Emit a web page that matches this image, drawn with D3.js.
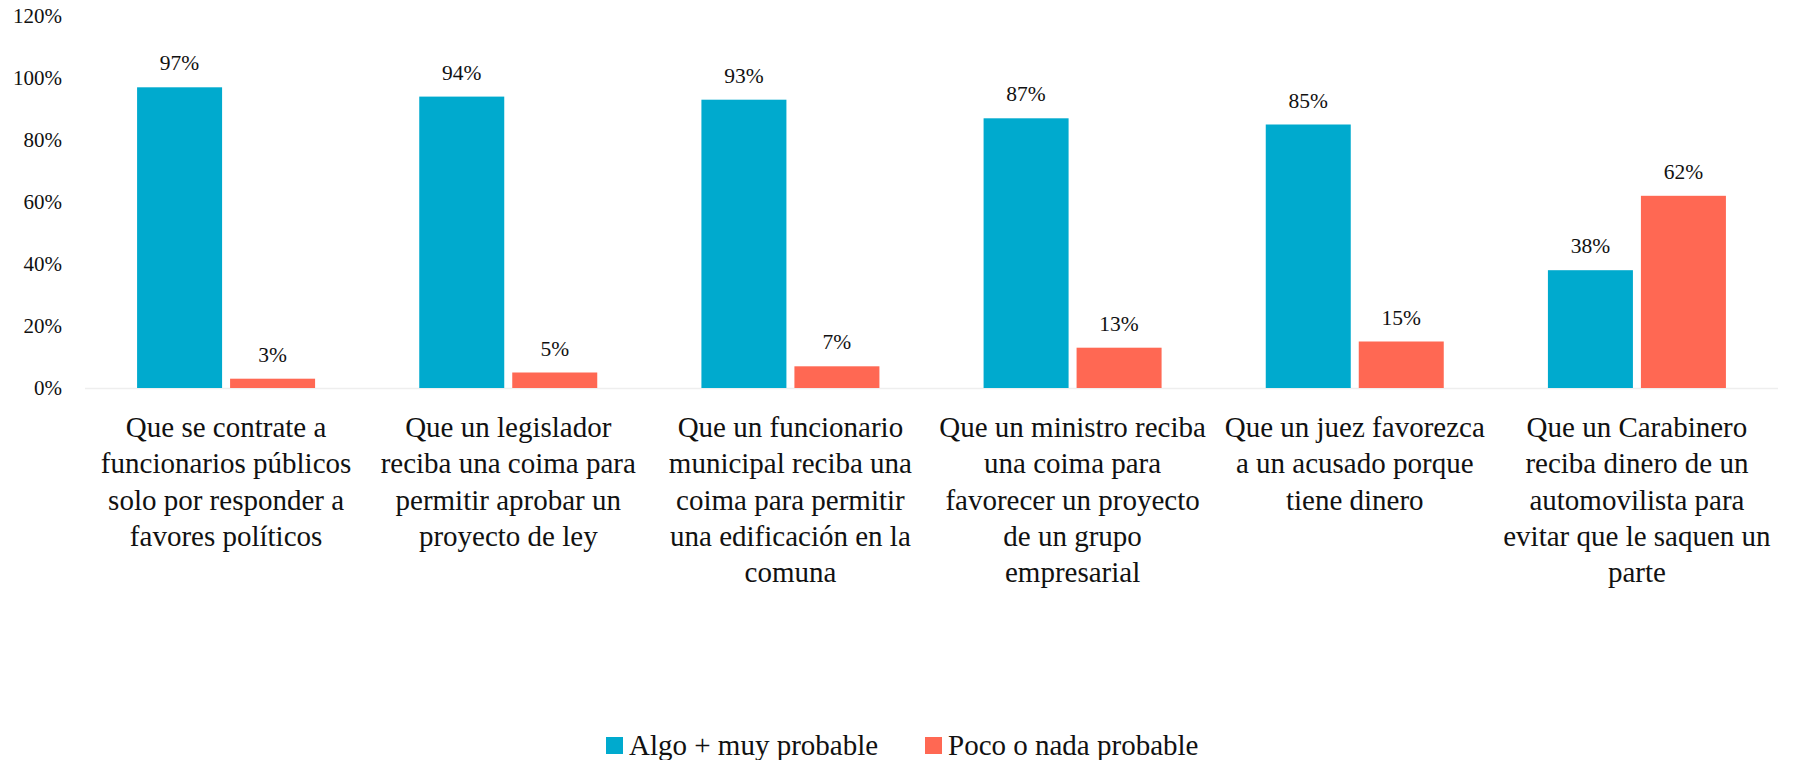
<!DOCTYPE html>
<html>
<head>
<meta charset="utf-8">
<script src="https://cdn.jsdelivr.net/npm/d3@7"></script>
<style>
  body { margin: 0; background: #fff; }
  svg text { font-family: "Liberation Serif", "DejaVu Serif", serif; fill: #111; }
</style>
</head>
<body>
<div class="chart"></div>
<script>
var categories = [
  ["Que se contrate a", "funcionarios públicos", "solo por responder a", "favores políticos"],
  ["Que un legislador", "reciba una coima para", "permitir aprobar un", "proyecto de ley"],
  ["Que un funcionario", "municipal reciba una", "coima para permitir", "una edificación en la", "comuna"],
  ["Que un ministro reciba", "una coima para", "favorecer un proyecto", "de un grupo", "empresarial"],
  ["Que un juez favorezca", "a un acusado porque", "tiene dinero"],
  ["Que un Carabinero", "reciba dinero de un", "automovilista para", "evitar que le saquen un", "parte"]
];
var seriesNames = ["Algo + muy probable", "Poco o nada probable"];
var algoMuy = [97, 94, 93, 87, 85, 38];
var pocoNada = [3, 5, 7, 13, 15, 62];
var yTicks = [0, 20, 40, 60, 80, 100, 120];
var colors = ["#00AACE", "#FF6853"];

var width = 1797, height = 760;
var plotLeft = 85, plotRight = 1778, plotTop = 16, plotBottom = 388;
var serif = "'Liberation Serif', 'DejaVu Serif', serif";

var svg = d3.select(".chart").append("svg")
    .attr("width", width)
    .attr("height", height);

var y = d3.scaleLinear().domain([0, 120]).range([plotBottom, plotTop]);
var x = d3.scaleBand().domain(d3.range(categories.length)).range([plotLeft, plotRight]);
var mid = x.bandwidth() / 2;
var inner = d3.scaleBand().domain([0, 1]).range([mid - 89, mid + 89])
    .paddingInner(0.086);

// y axis labels
svg.append("g").attr("transform", "translate(62,0)")
  .call(d3.axisLeft(y).tickValues(yTicks).tickSize(0).tickPadding(0)
        .tickFormat(function(d) { return d + "%"; }))
  .call(function(g) {
    g.select(".domain").remove();
    g.selectAll("text").style("font-size", "21px")
      .style("font-family", serif).style("fill", "#111");
  });

// baseline
svg.append("line")
  .attr("x1", plotLeft).attr("x2", plotRight)
  .attr("y1", plotBottom + 0.5).attr("y2", plotBottom + 0.5)
  .attr("stroke", "#eeeeee").attr("stroke-width", 1.5);

var rows = categories.map(function(c, i) { return [algoMuy[i], pocoNada[i]]; });

var groups = svg.selectAll("g.grp").data(rows).enter().append("g")
  .attr("class", "grp")
  .attr("transform", function(d, i) { return "translate(" + x(i) + ",0)"; });

groups.selectAll("rect").data(function(d) { return d; }).enter().append("rect")
  .attr("x", function(d, j) { return inner(j); })
  .attr("width", inner.bandwidth())
  .attr("y", function(d) { return y(d); })
  .attr("height", function(d) { return plotBottom - y(d); })
  .attr("fill", function(d, j) { return colors[j]; });

groups.selectAll("text.val").data(function(d) { return d; }).enter().append("text")
  .attr("class", "val")
  .attr("x", function(d, j) { return inner(j) + inner.bandwidth() / 2; })
  .attr("y", function(d) { return y(d) - 17; })
  .attr("text-anchor", "middle")
  .style("font-family", serif)
  .style("font-size", "21.5px")
  .text(function(d) { return d + "%"; });

// category labels
var catLabels = svg.selectAll("text.cat").data(categories).enter().append("text")
  .attr("class", "cat")
  .attr("text-anchor", "middle")
  .attr("transform", function(d, i) { return "translate(" + (x(i) + mid) + ",0)"; })
  .style("font-family", serif)
  .style("font-size", "29px");

catLabels.selectAll("tspan").data(function(d) { return d; }).enter().append("tspan")
  .attr("x", 0)
  .attr("y", function(d, k) { return 437 + k * 36.3; })
  .text(function(d) { return d; });

// legend
var legendX = [606, 925];
var legend = svg.selectAll("g.leg").data(seriesNames).enter().append("g")
  .attr("class", "leg")
  .attr("transform", function(d, i) { return "translate(" + legendX[i] + ",737)"; });
legend.append("rect").attr("width", 17).attr("height", 17)
  .attr("fill", function(d, i) { return colors[i]; });
legend.append("text").attr("x", 23).attr("y", 18)
  .style("font-family", serif)
  .style("font-size", "29px")
  .text(function(d) { return d; });
</script>
</body>
</html>
